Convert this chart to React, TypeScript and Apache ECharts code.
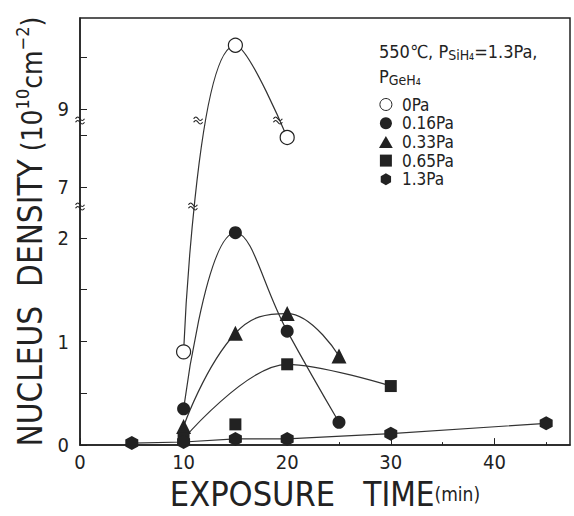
import React, { useEffect, useRef } from 'react';
import * as echarts from 'echarts';

// ---------- data ----------
const legendNames = ['0Pa', '0.16Pa', '0.33Pa', '0.65Pa', '1.3Pa'];
const times0 = [10, 15, 20];
const dens0 = [0.9, 10.23, 7.95];
const times016 = [10, 15, 20, 25];
const dens016 = [0.35, 2.05, 1.1, 0.22];
const times033 = [10, 15, 20, 25];
const dens033 = [0.18, 1.08, 1.27, 0.86];
const times065 = [10, 20, 30];
const dens065 = [0.06, 0.78, 0.57];
const times065Iso = [15];
const dens065Iso = [0.2];
const times13 = [5, 10, 15, 20, 30, 45];
const dens13 = [0.02, 0.03, 0.06, 0.06, 0.11, 0.21];

const xLabelValues = [0, 10, 20, 30, 40];
const xMinorTickValues = [5, 15, 25, 35, 45];
const yLabelValues = [0, 1, 2, 7, 9];
const yTickValues = [0, 0.5, 1, 1.5, 2, 7, 8, 9, 10];
// axis breaks (positions on the broken scale) and where the 0 Pa curve crosses them
const breakLevels = [2.303, 3.133];
const curveBreakX = [10.9, 11.4, 19.1];
const curveBreakLevel = [0, 1, 1];

// ---------- broken axis mapping ----------
const D7 = 2.493;
const D9 = 3.242;
const R = 0.502;
function toDisp(v: number): number {
  if (v <= 4) return v;
  if (v < 8.5) return D7 + (v - 7) * R;
  return D9 + (v - 9) * R;
}

const INK = '#222';
const LINE = '#333';
const COND = "'DejaVu Sans Condensed', 'Liberation Sans Narrow', 'Liberation Sans', sans-serif";
const HEX = 'path://M5,0 L10,2.9 L10,8.7 L5,11.6 L0,8.7 L0,2.9 Z';
const TRI = 'path://M5,0 L10,8.7 L0,8.7 Z';
const SQR = 'path://M0,0 L10,0 L10,10 L0,10 Z';
const BREAK = 'path://M0,4 C3,0 5,0 8,4 S13,8 16,4 M0,10 C3,6 5,6 8,10 S13,14 16,10';

function pts(xs: number[], ys: number[]) {
  return xs.map((x, i) => [x, toDisp(ys[i])]);
}

export default function App() {
  const ref = useRef<HTMLDivElement>(null);
  useEffect(() => {
    if (!ref.current) return;
    const chart = echarts.init(ref.current, undefined, { renderer: 'svg' });
    const lineStyle = { color: LINE, width: 1.2 };
    const filled = { color: INK, borderWidth: 0, opacity: 1 };
    const option: any = {
      animation: false,
      backgroundColor: '#fff',
      grid: {
        left: 80, top: 18, width: 490, height: 435,
        show: true, borderColor: INK, borderWidth: 1.5, backgroundColor: 'transparent',
      },
      xAxis: [
        {
          type: 'value', min: 0, max: 47.3, position: 'bottom',
          name: '{b|EXPOSURE}{g|   }{t|TIME}{m|(min)}',
          nameLocation: 'middle', nameGap: 29,
          nameTextStyle: {
            color: INK,
            rich: {
              b: { fontFamily: COND, fontSize: 34, color: INK },
              g: { fontFamily: COND, fontSize: 33 },
              t: { fontFamily: COND, fontSize: 33, color: INK },
              m: { fontFamily: COND, fontSize: 19, color: INK },
            },
          },
          axisLine: { show: true, onZero: false, lineStyle: { color: INK, width: 1.5 } },
          axisTick: { show: true, inside: true, length: 7, customValues: xLabelValues, lineStyle: { color: INK } },
          axisLabel: {
            customValues: xLabelValues, color: INK, fontFamily: COND, fontSize: 20, margin: 7,
          },
          splitLine: { show: false },
        },
        {
          type: 'value', min: 0, max: 47.3, position: 'bottom',
          axisLine: { show: false, onZero: false },
          axisTick: { show: true, inside: true, length: 3, customValues: xMinorTickValues, lineStyle: { color: INK } },
          axisLabel: { show: false },
          splitLine: { show: false },
        },
      ],
      yAxis: {
        type: 'value', min: 0, max: 4.123,
        name: '{b|NUCLEUS  DENSITY}{c| (10}{s|10}{c|cm}{s|−2}{c|)}',
        nameLocation: 'middle', nameGap: 33, nameRotate: 90,
        nameTextStyle: {
          color: INK,
          rich: {
            b: { fontFamily: COND, fontSize: 33, color: INK, verticalAlign: 'bottom' },
            c: { fontFamily: COND, fontSize: 28, color: INK, verticalAlign: 'bottom' },
            s: { fontFamily: COND, fontSize: 18, color: INK, verticalAlign: 'top' },
          },
        },
        axisLine: { show: true, onZero: false, lineStyle: { color: INK, width: 1.5 } },
        axisTick: {
          show: true, inside: true, length: 7,
          customValues: yTickValues.map(toDisp), lineStyle: { color: INK },
        },
        axisLabel: {
          customValues: yLabelValues.map(toDisp), color: INK, fontFamily: COND, fontSize: 20, margin: 11,
          formatter: (val: number) => {
            const f = yLabelValues.find((v) => Math.abs(toDisp(v) - val) < 1e-6);
            return f === undefined ? '' : String(f);
          },
        },
        splitLine: { show: false },
      },
      legend: {
        orient: 'vertical', left: 374, top: 91,
        itemWidth: 22, itemHeight: 12, itemGap: 1.7,
        textStyle: { fontFamily: COND, fontSize: 17, color: INK, lineHeight: 17 },
        data: [
          { name: legendNames[0], icon: 'circle', itemStyle: { color: '#fff', borderColor: INK, borderWidth: 1 } },
          { name: legendNames[1], icon: 'circle', itemStyle: filled },
          { name: legendNames[2], icon: TRI, itemStyle: filled },
          { name: legendNames[3], icon: SQR, itemStyle: filled },
          { name: legendNames[4], icon: HEX, itemStyle: filled },
        ],
      },
      graphic: [
        {
          type: 'text', left: 379, top: 41,
          style: {
            text: '{a|550℃, P}{s|SiH₄}{a|=1.3Pa,}\n{a|P}{s|GeH₄}',
            fill: INK,
            rich: {
              a: { fontFamily: COND, fontSize: 18, lineHeight: 25, fill: INK },
              s: { fontFamily: COND, fontSize: 14, lineHeight: 14, padding: [7, 0, 0, 0], fill: INK },
            },
          },
        },
      ],
      series: [
        {
          name: legendNames[0], type: 'line', smooth: 0.5, data: pts(times0, dens0),
          symbol: 'circle', symbolSize: 14, lineStyle,
          itemStyle: { color: '#fff', borderColor: INK, borderWidth: 1.2 }, z: 3,
        },
        {
          name: legendNames[1], type: 'line', smooth: 0.45, data: pts(times016, dens016),
          symbol: 'circle', symbolSize: 13, lineStyle, itemStyle: filled, z: 3,
        },
        {
          name: legendNames[2], type: 'line', smooth: 0.45, data: pts(times033, dens033),
          symbol: 'triangle', symbolSize: 15, lineStyle, itemStyle: filled, z: 3,
        },
        {
          name: legendNames[3], type: 'line', smooth: 0.35, data: pts(times065, dens065),
          symbol: 'rect', symbolSize: 12, lineStyle, itemStyle: filled, z: 3,
        },
        {
          name: legendNames[3], type: 'scatter', data: pts(times065Iso, dens065Iso),
          symbol: 'rect', symbolSize: 12, itemStyle: filled, z: 3,
        },
        {
          name: legendNames[4], type: 'line', data: pts(times13, dens13),
          symbol: HEX, symbolSize: [13, 14], lineStyle, itemStyle: filled, z: 3,
        },
        {
          name: 'breaks', type: 'scatter', silent: true, clip: false, z: 5,
          symbol: BREAK, symbolSize: [9, 7],
          itemStyle: { color: 'transparent', borderColor: INK, borderWidth: 1, opacity: 1 },
          data: [
            ...breakLevels.map((b) => [0, b]),
            ...curveBreakX.map((x, i) => [x, breakLevels[curveBreakLevel[i]]]),
          ],
        },
      ],
    };
    chart.setOption(option);
    return () => chart.dispose();
  }, []);
  return (
    <div
      ref={ref}
      style={{ position: 'fixed', left: 0, top: 0, width: 574, height: 516 }}
    />
  );
}
